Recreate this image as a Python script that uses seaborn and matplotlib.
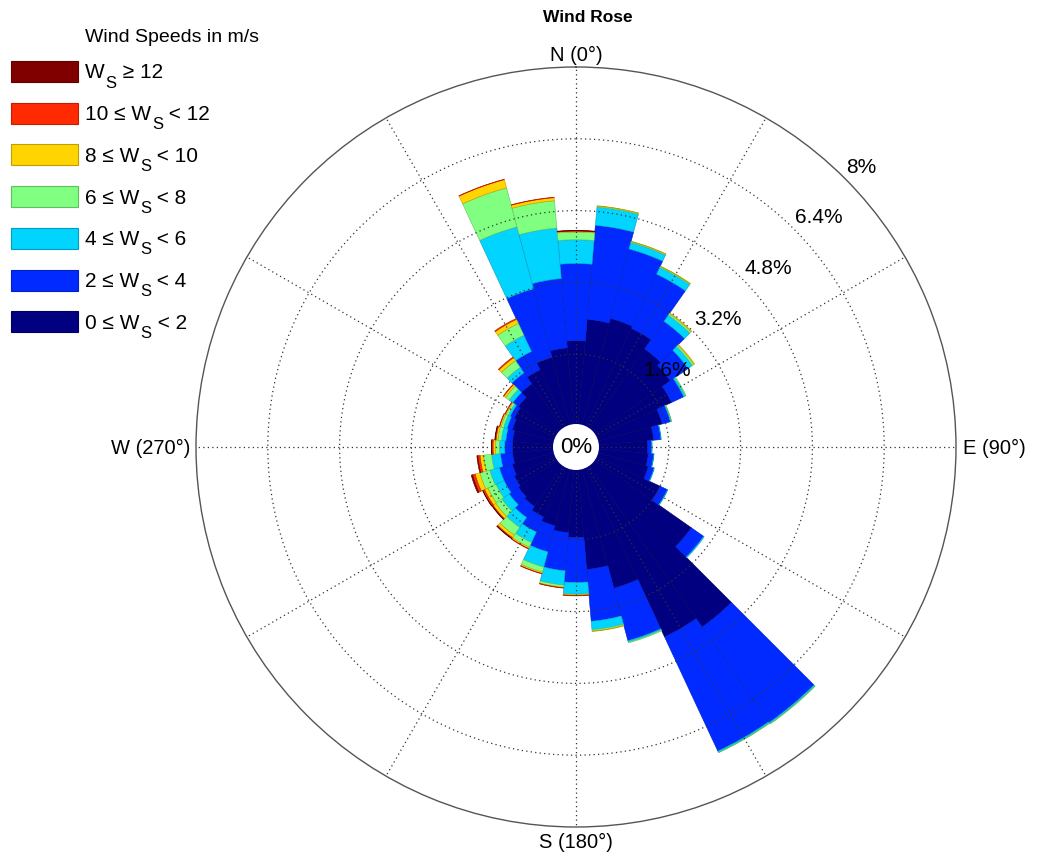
import numpy as np
import matplotlib
matplotlib.use("Agg")
import matplotlib.pyplot as plt
from matplotlib.patches import Rectangle, Circle
import seaborn as sns

# Direction sectors (degrees clockwise from north), 10-degree bins
directions = np.arange(0, 360, 10)

# Frequency (%) of each wind-speed class per direction sector
ws_0_2 = [1.90, 2.39, 2.50, 2.45, 2.20, 2.10, 1.88, 1.52, 1.27, 1.13, 1.15, 1.20,
          1.60, 2.67, 4.43, 4.20, 2.79, 2.27, 1.55, 1.45, 1.35, 1.25, 1.15, 1.10,
          1.05, 1.00, 0.95, 0.95, 0.95, 1.00, 1.05, 1.10, 1.25, 1.43, 1.60, 1.75]
ws_2_4 = [1.72, 2.10, 1.60, 1.33, 0.75, 0.48, 0.30, 0.19, 0.16, 0.09, 0.12, 0.13,
          0.18, 0.33, 2.60, 2.81, 1.21, 1.16, 1.00, 0.85, 0.60, 0.37, 0.30, 0.25,
          0.25, 0.30, 0.27, 0.17, 0.15, 0.12, 0.10, 0.15, 0.30, 0.45, 1.58, 1.55]
ws_4_6 = [0.53, 0.41, 0.15, 0.17, 0.17, 0.12, 0.04, 0.02, 0.01, 0.01, 0.01, 0.01,
          0.01, 0.02, 0.03, 0.03, 0.03, 0.19, 0.26, 0.32, 0.35, 0.26, 0.27, 0.20,
          0.20, 0.22, 0.20, 0.12, 0.10, 0.08, 0.05, 0.10, 0.15, 0.40, 1.43, 1.13]
ws_6_8 = [0.17, 0.02, 0.02, 0.02, 0.04, 0.04, 0.02, 0.01, 0.00, 0.00, 0.00, 0.00,
          0.00, 0.00, 0.01, 0.01, 0.02, 0.03, 0.02, 0.05, 0.12, 0.12, 0.21, 0.17,
          0.20, 0.23, 0.18, 0.09, 0.08, 0.06, 0.05, 0.10, 0.18, 0.29, 0.90, 0.61]
ws_8_10 = [0.02, 0.01, 0.01, 0.01, 0.02, 0.02, 0.00, 0.00, 0.00, 0.00, 0.00, 0.00,
           0.00, 0.00, 0.00, 0.00, 0.00, 0.01, 0.01, 0.01, 0.03, 0.03, 0.07, 0.07,
           0.08, 0.11, 0.08, 0.05, 0.04, 0.03, 0.02, 0.05, 0.08, 0.10, 0.19, 0.07]
ws_10_12 = [0.01, 0.00, 0.00, 0.00, 0.00, 0.00, 0.00, 0.00, 0.00, 0.00, 0.00, 0.00,
            0.00, 0.00, 0.00, 0.00, 0.00, 0.00, 0.01, 0.01, 0.01, 0.01, 0.02, 0.02,
            0.04, 0.06, 0.05, 0.03, 0.02, 0.01, 0.01, 0.01, 0.02, 0.02, 0.01, 0.01]
ws_12_up = [0.01, 0.00, 0.00, 0.00, 0.00, 0.00, 0.00, 0.00, 0.00, 0.00, 0.00, 0.00,
            0.00, 0.00, 0.00, 0.00, 0.00, 0.00, 0.00, 0.00, 0.00, 0.00, 0.01, 0.01,
            0.01, 0.03, 0.02, 0.01, 0.01, 0.00, 0.00, 0.00, 0.00, 0.00, 0.00, 0.00]

speed_bins = [ws_0_2, ws_2_4, ws_4_6, ws_6_8, ws_8_10, ws_10_12, ws_12_up]
# Legend label pieces around the subscripted "W_S"
label_prefix = ["0 \u2264 W", "2 \u2264 W", "4 \u2264 W", "6 \u2264 W",
                "8 \u2264 W", "10 \u2264 W", "W"]
label_suffix = [" < 2", " < 4", " < 6", " < 8", " < 10", " < 12", " \u2265 12"]
bin_colors = ["#000080", "#002aff", "#00d4ff", "#80ff80", "#ffd400", "#ff2a00", "#800000"]

ring_values = [1.6, 3.2, 4.8, 6.4, 8.0]
ring_labels = ["1.6%", "3.2%", "4.8%", "6.4%", "8%"]
compass_labels = ["N (0\u00b0)", "E (90\u00b0)", "S (180\u00b0)", "W (270\u00b0)"]

sns.set_theme(style="white")
plt.rcParams["font.family"] = ["Liberation Sans", "DejaVu Sans"]
plt.rcParams["text.color"] = "black"
plt.rcParams["xtick.color"] = "black"
plt.rcParams["ytick.color"] = "black"

palette = sns.color_palette(bin_colors)

W, H = 1037, 862
fig = plt.figure(figsize=(W / 100, H / 100), dpi=100)
fig.patch.set_facecolor("white")

cx, cy, R = 576, 448, 380
ax = fig.add_axes([(cx - R) / W, (H - cy - R) / H, 2 * R / W, 2 * R / H], projection="polar")
ax.set_facecolor("white")
ax.set_theta_zero_location("N")
ax.set_theta_direction(-1)

theta = np.deg2rad(directions)
width = np.deg2rad(10)
bottom = np.zeros(len(directions))
for vals, color in zip(speed_bins, palette):
    vals = np.asarray(vals, dtype=float)
    keep = vals > 0
    edge = tuple(np.clip(np.array(color) * 0.75, 0, 1))
    ax.bar(theta[keep], vals[keep], width=width, bottom=bottom[keep], color=color,
           edgecolor=edge, linewidth=0.4, align="center", zorder=1)
    bottom += vals

ax.set_ylim(0, 8)
ax.set_rorigin(-0.468)
ax.spines["inner"].set_visible(False)
ax.spines["polar"].set_color("#555555")
ax.spines["polar"].set_linewidth(1.0)

ax.set_rgrids(ring_values[:-1], labels=[""] * 4)
ax.set_thetagrids(np.arange(0, 360, 30), labels=[""] * 12)
ax.grid(True, color="#333333", linestyle=(0, (1, 2.6)), linewidth=0.9)
ax.set_axisbelow(False)

# White hub in the middle of the rose
ax.add_patch(Circle((0.5, 0.5), 23 / (2 * R), transform=ax.transAxes,
                    facecolor="white", edgecolor="none", zorder=4, clip_on=False))
ax.text(0.5, 0.5, "0%", transform=ax.transAxes, ha="center", va="center",
        fontsize=16, color="black", zorder=5)

for v, lab in zip(ring_values, ring_labels):
    ax.annotate(lab, xy=(np.deg2rad(45), v), xytext=(1, 2), textcoords="offset points",
                ha="left", va="bottom", fontsize=15, color="black", zorder=5)


def px(x, y):
    """Figure fraction from pixel position measured from the top-left."""
    return x / W, 1 - y / H


# Compass labels just outside the outer ring
fs_dir = 14.5
fig.text(*px(cx, cy - R - 3), compass_labels[0], ha="center", va="bottom", fontsize=fs_dir)
fig.text(*px(cx + R + 7, cy), compass_labels[1], ha="left", va="center", fontsize=fs_dir)
fig.text(*px(cx, cy + R + 5), compass_labels[2], ha="center", va="top", fontsize=fs_dir)
fig.text(*px(cx - R - 6, cy), compass_labels[3], ha="right", va="center", fontsize=fs_dir)

fig.text(*px(588, 18), "Wind Rose", ha="center", va="center",
         fontsize=12.5, fontweight="bold")

# Legend: swatches with the strongest winds on top
fig.text(*px(85, 37), "Wind Speeds in m/s", ha="left", va="center", fontsize=14)
renderer = fig.canvas.get_renderer()
for k, idx in enumerate(range(len(speed_bins) - 1, -1, -1)):
    color = palette[idx]
    top = 62 + 41.7 * k
    edge = tuple(np.clip(np.array(color) * 0.75, 0, 1))
    fig.add_artist(Rectangle(px(11, top + 21), 67 / W, 21 / H,
                             transform=fig.transFigure, facecolor=color,
                             edgecolor=edge, linewidth=0.8))
    base = top + 16.5
    t1 = fig.text(*px(85, base), label_prefix[idx], ha="left", va="baseline", fontsize=15)
    x1 = t1.get_window_extent(renderer).x1
    t2 = fig.text(*px(x1 + 1, base + 9), "S", ha="left", va="baseline", fontsize=12)
    x2 = t2.get_window_extent(renderer).x1
    fig.text(*px(x2, base), label_suffix[idx], ha="left", va="baseline", fontsize=15)

fig.savefig("out.png", dpi=100, facecolor="white")
